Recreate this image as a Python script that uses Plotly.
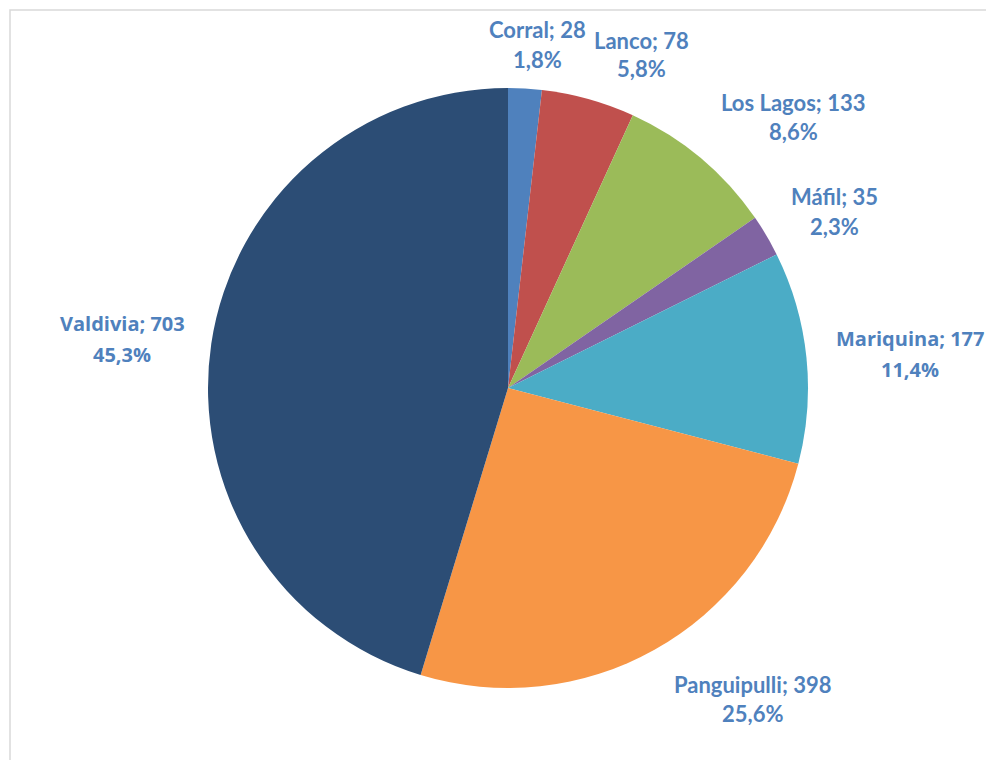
import plotly.graph_objects as go

comunas = ["Corral", "Lanco", "Los Lagos", "Máfil", "Mariquina", "Panguipulli", "Valdivia"]
matricula = [28, 78, 133, 35, 177, 398, 703]
porcentajes = ["1,8%", "5,8%", "8,6%", "2,3%", "11,4%", "25,6%", "45,3%"]
colores = ["#4F81BD", "#C0504D", "#9BBB59", "#8064A2", "#4BACC6", "#F79646", "#2C4D75"]

W, H = 994, 760
OFF = 8  # page body margin
cx, cy, r = 508 - OFF, 388 - OFF, 300

# label placement (x centre, y of first line, y of second line) in page pixels
label_pos = [(537, 30, 59), (641, 41, 69), (793, 102, 131), (834, 196, 226),
             (910, 338, 369), (752, 684, 713), (122, 324, 355)]
calibri_like = dict(family="Lato, Liberation Sans, sans-serif", size=22, color="#4F81BD")
verdana_like = dict(family="Open Sans, DejaVu Sans, sans-serif", size=20, color="#4F81BD")
label_fonts = [calibri_like, calibri_like, calibri_like, calibri_like, verdana_like, calibri_like, verdana_like]

fig = go.Figure(go.Pie(
    labels=comunas,
    values=matricula,
    textinfo="none",
    sort=False,
    direction="clockwise",
    rotation=0,
    marker=dict(colors=colores, line=dict(width=0)),
    showlegend=False,
    domain=dict(x=[(cx - r) / W, (cx + r) / W], y=[(H - cy - r) / H, (H - cy + r) / H]),
    hoverinfo="label+value",
))

annotations = []
for c, v, p, (px, py1, py2), f in zip(comunas, matricula, porcentajes, label_pos, label_fonts):
    for txt, py in ((f"<b>{c}; {v}</b>", py1), (f"<b>{p}</b>", py2)):
        annotations.append(dict(
            x=(px - OFF) / W, y=1 - (py - OFF) / H, xref="paper", yref="paper",
            text=txt, showarrow=False, xanchor="center", yanchor="middle",
            font=f, align="center",
        ))

fig.update_layout(
    width=W, height=H,
    margin=dict(l=0, r=0, t=0, b=0),
    paper_bgcolor="white",
    annotations=annotations,
    shapes=[dict(type="rect", xref="paper", yref="paper",
                 x0=(10 - OFF) / W, x1=1.05, y0=-0.05, y1=1 - (10 - OFF) / H,
                 line=dict(color="#D9D9D9", width=1.5))],
)

fig.write_html("out.html")
